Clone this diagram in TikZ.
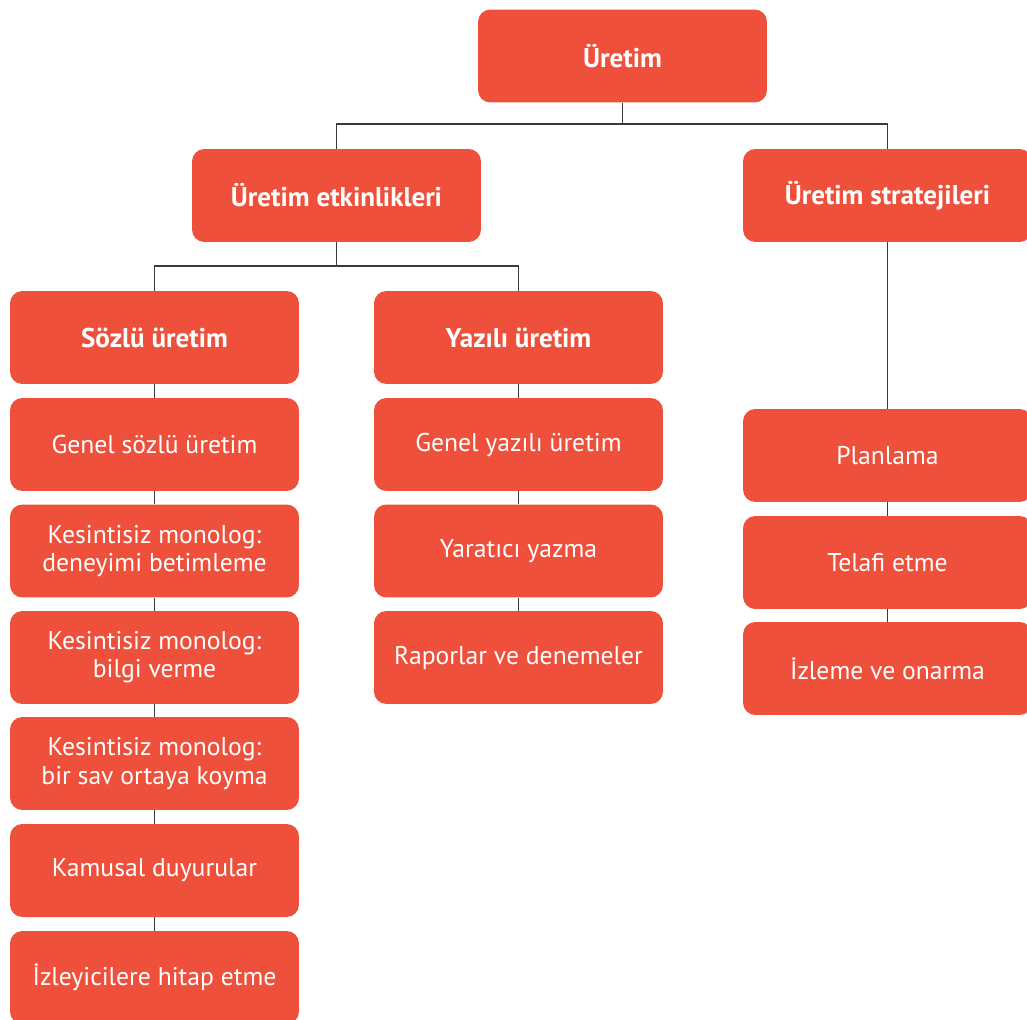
\documentclass[tikz,border=0pt]{standalone}
\usepackage{fontspec}
\setmainfont{PT Sans}
\usepackage{xcolor}
\definecolor{boxred}{HTML}{EE503B}
\definecolor{linegray}{HTML}{3A3A3A}

\begin{document}
\begin{tikzpicture}[x=0.02cm, y=-0.02cm,
    box/.style={fill=boxred, rounded corners=7pt, minimum width=5.78cm, minimum height=1.86cm,
        text=white, align=center, font=\fontsize{14.6}{16}\selectfont, inner sep=0pt},
    headbox/.style={box, font=\fontsize{15.4}{17}\selectfont\bfseries},
    link/.style={draw=linegray, line width=0.7pt}]

    \useasboundingbox (0,0) rectangle (1027,1020);

    % Top level
    \node[headbox] (root) at (622.5, 56) {Üretim};

    % Second level
    \node[headbox] (etk) at (336.5, 195.5) {Üretim etkinlikleri};
    \node[headbox] (str) at (887.5, 195.5) {Üretim stratejileri};

    % Third level
    \node[headbox] (soz) at (154.5, 337.5) {Sözlü üretim};
    \node[headbox] (yaz) at (518.5, 337.5) {Yazılı üretim};

    % Spoken production column
    \node[box] (soz1) at (154.5, 444.5) {Genel sözlü üretim};
    \node[box] (soz2) at (154.5, 551) {Kesintisiz monolog:\\deneyimi betimleme};
    \node[box] (soz3) at (154.5, 657.5) {Kesintisiz monolog:\\bilgi verme};
    \node[box] (soz4) at (154.5, 763.5) {Kesintisiz monolog:\\bir sav ortaya koyma};
    \node[box] (soz5) at (154.5, 870.5) {Kamusal duyurular};
    \node[box] (soz6) at (154.5, 977.5) {İzleyicilere hitap etme};

    % Written production column
    \node[box] (yaz1) at (518.5, 444.5) {Genel yazılı üretim};
    \node[box] (yaz2) at (518.5, 551) {Yaratıcı yazma};
    \node[box] (yaz3) at (518.5, 657.5) {Raporlar ve denemeler};

    % Strategies column
    \node[box] (str1) at (887.5, 455.5) {Planlama};
    \node[box] (str2) at (887.5, 562.5) {Telafi etme};
    \node[box] (str3) at (887.5, 668.5) {İzleme ve onarma};

    % Tree connectors
    \coordinate (rootj) at (622.5, 124);
    \coordinate (etkj) at (336.5, 266);
    \draw[link] (root.south) -- (rootj);
    \draw[link] (etk.north) |- (rootj) -| (str.north);
    \draw[link] (etk.south) -- (etkj);
    \draw[link] (soz.north) |- (etkj) -| (yaz.north);
    \draw[link] (str.south) -- (str1.north);

    % Column connectors
    \foreach \a/\b in {soz/soz1, soz1/soz2, soz2/soz3, soz3/soz4, soz4/soz5, soz5/soz6,
                       yaz/yaz1, yaz1/yaz2, yaz2/yaz3, str1/str2, str2/str3}
        \draw[link] (\a.south) -- (\b.north);

\end{tikzpicture}
\end{document}
